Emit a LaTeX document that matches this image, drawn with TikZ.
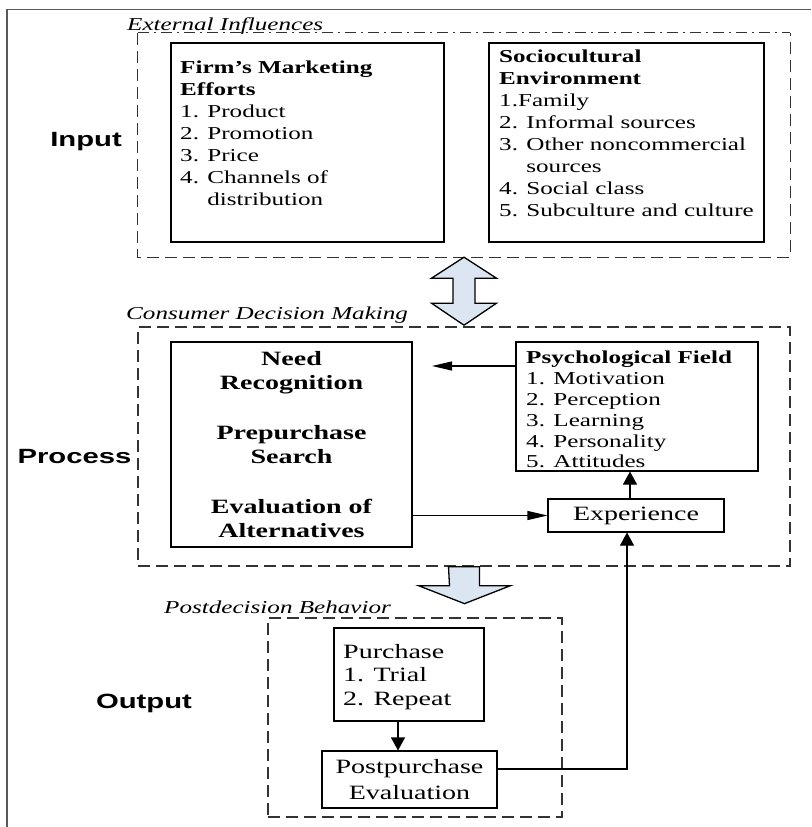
\documentclass[tikz,border=0pt]{standalone}
\usepackage{fontspec}
\setmainfont{Liberation Serif}[FakeStretch=1.38]
\newfontfamily\stagefont{Liberation Sans}[FakeStretch=1.42]
\usetikzlibrary{arrows.meta}
\definecolor{arrowblue}{HTML}{DCE6F2}

\begin{document}
\begin{tikzpicture}[x=1pt,y=-1pt,
    box/.style={draw,line width=1.1pt,inner sep=0pt},
    grp/.style={draw=black!80,line width=1.3pt,dash pattern=on 12pt off 6pt},
    grpdot/.style={draw=black!80,line width=1.3pt,dash pattern=on 11pt off 5pt on 2pt off 5pt},
    txt/.style={inner sep=0pt,align=left,anchor=north west,font=\fontsize{18.2}{22}\selectfont},
    big/.style={font=\fontsize{20.3}{24}\selectfont},
    stage/.style={inner sep=0pt,font=\stagefont\bfseries\fontsize{20.6}{24}\selectfont},
    grplabel/.style={inner sep=0pt,anchor=west,font=\itshape\fontsize{18.2}{22}\selectfont},
    harr/.style={line width=1.1pt,-{Triangle[length=20pt,width=9pt]}},
    varr/.style={line width=1.1pt,-{Triangle[length=13pt,width=14pt]}},
    blockarr/.style={draw,line width=1.3pt,fill=arrowblue,line join=miter}]
    \useasboundingbox (0,0) rectangle (811,827);
    \draw[gray!70!black,line width=1.2pt] (7,827) -- (7,9.5) -- (811,9.5);

    % input
    \node[stage] (input) at (86,142) {Input};
    \node[grplabel] (extlabel) at (127,26) {External Influences};
    \node[minimum width=652pt,minimum height=224pt] (extgrp) at (464,145) {};
    \draw[grp] (extgrp.north west) -- (extgrp.south west) -- (extgrp.south east) -- (extgrp.north east);
    \draw[grpdot] (extgrp.north west) -- (extgrp.north east);
    \node[box,minimum width=273pt,minimum height=199pt] (firm) at (307.5,142.5) {};
    \node[txt] (firmtxt) at (180,61) {\textbf{Firm’s Marketing}\\\textbf{Efforts}\\1. Product\\2. Promotion\\3. Price\\4. Channels of\\\phantom{4. }distribution};
    \node[box,minimum width=275pt,minimum height=199pt] (socio) at (626.5,142.5) {};
    \node[txt] (sociotxt) at (499,50) {\textbf{Sociocultural}\\\textbf{Environment}\\1.Family\\2. Informal sources\\3. Other noncommercial\\\phantom{3. }sources\\4. Social class\\5. Subculture and culture};

    \draw[blockarr] (extgrp.south) -- ++(32.5,21) -- ++(-21.5,0) -- ++(0,25) -- ++(21.5,0) -- ++(-32.5,22)
        -- ++(-32.5,-22) -- ++(21.5,0) -- ++(0,-25) -- ++(-21.5,0) -- cycle;

    % process
    \node[stage] (process) at (74.5,457) {Process};
    \node[grplabel] (cdmlabel) at (126,315) {Consumer Decision Making};
    \node[grp,minimum width=652pt,minimum height=239pt] (cdmgrp) at (464,446.5) {};
    \node[box,font=\bfseries\fontsize{20.3}{24}\selectfont,align=center,minimum width=241pt,minimum height=205pt] (need) at (291.5,444.5)
        {Need\\Recognition\\[26pt]Prepurchase\\Search\\[26pt]Evaluation of\\Alternatives};
    \node[box,minimum width=242pt,minimum height=129pt] (psych) at (637,406.5) {};
    \node[txt,font=\fontsize{18.2}{20.8}\selectfont] (psychtxt) at (526,351) {\textbf{Psychological Field}\\1. Motivation\\2. Perception\\3. Learning\\4. Personality\\5. Attitudes};
    \node[box,big,minimum width=176pt,minimum height=33pt] (exp) at (636,515.5) {Experience};
    \coordinate (fb) at (432,366);

    \draw[harr] (psych.west |- fb) -- (fb);
    \draw[harr] (need.east |- exp.west) -- (exp.west);
    \draw[varr] ([xshift=-6pt]exp.north) -- ([xshift=-6pt]exp.north |- psych.south);

    \draw[blockarr] (cdmgrp.south) ++(-15.5,0) -- ++(31,0) -- ++(0,19) -- ++(31,0) -- ++(-46,18) -- ++(-46,-18)
        -- ++(31,0) -- cycle;

    % output
    \node[stage] (output) at (144,703) {Output};
    \node[grplabel] (pdblabel) at (164,607) {Postdecision Behavior};
    \node[grp,minimum width=294pt,minimum height=199pt] (pdbgrp) at (415,717.5) {};
    \node[box,minimum width=150pt,minimum height=93pt] (purch) at (409,674.5) {};
    \node[txt,font=\fontsize{20.3}{23.5}\selectfont] (purchtxt) at (343,644) {Purchase\\1. Trial\\2. Repeat};
    \node[box,font=\fontsize{20.3}{26}\selectfont,align=center,minimum width=175pt,minimum height=57pt] (post) at (409.5,779.5) {Postpurchase\\Evaluation};
    \coordinate (loop) at (627,769);

    \draw[varr] ([xshift=-11pt]purch.south) -- ([xshift=-11pt]purch.south |- post.north);
    \draw[varr] ([yshift=10.5pt]post.east) -- (loop) -- (loop |- exp.south);
\end{tikzpicture}
\end{document}
